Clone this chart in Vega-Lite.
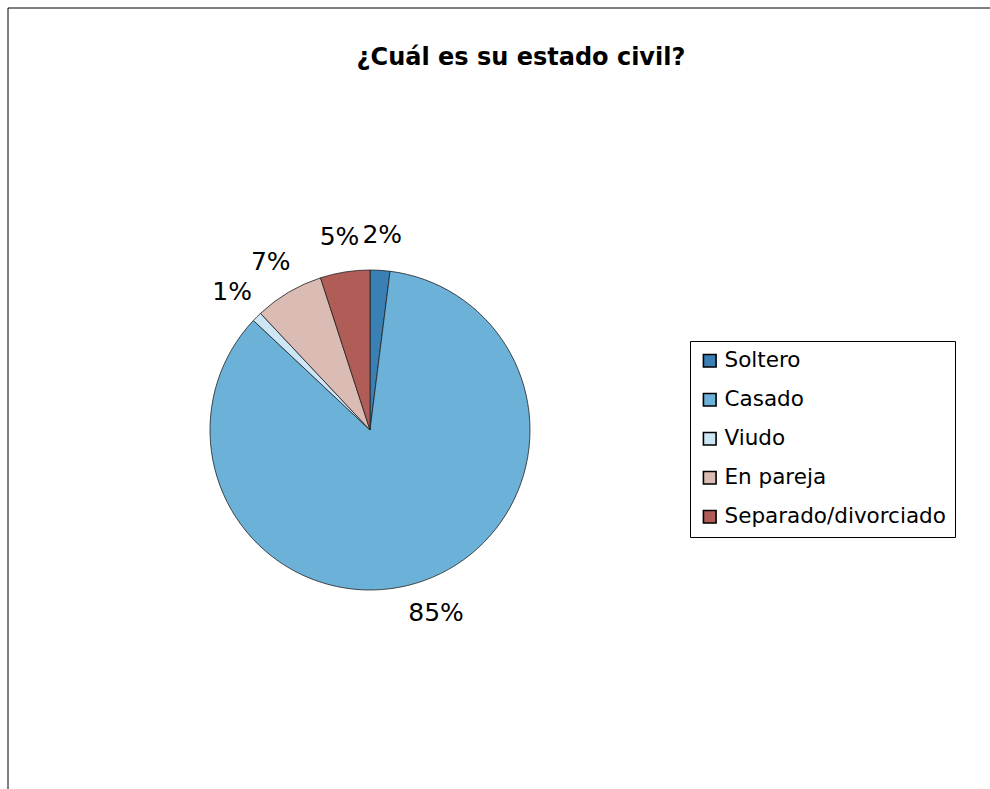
{
  "$schema": "https://vega.github.io/schema/vega-lite/v6.json",
  "autosize": "none",
  "width": 1000,
  "height": 800,
  "padding": {"left": 8, "top": 8, "right": 0, "bottom": 0},
  "background": "white",
  "title": {
    "text": "¿Cuál es su estado civil?",
    "font": "DejaVu Sans",
    "fontSize": 24,
    "fontWeight": "bold",
    "color": "black",
    "anchor": "middle",
    "offset": -62,
    "dx": 13
  },
  "config": {
    "view": {"stroke": null},
    "font": "DejaVu Sans"
  },
  "layer": [
    {
      "data": {"values": [{"k": 1}]},
      "mark": {"type": "rect", "fill": "white", "fillOpacity": 0, "stroke": "black", "strokeWidth": 1}
    },
    {
      "data": {
        "values": [
          {"estado": "Soltero", "pct": 2, "orden": 1, "label": "2%"},
          {"estado": "Casado", "pct": 85, "orden": 2, "label": "85%"},
          {"estado": "Viudo", "pct": 1, "orden": 3, "label": "1%"},
          {"estado": "En pareja", "pct": 7, "orden": 4, "label": "7%"},
          {"estado": "Separado/divorciado", "pct": 5, "orden": 5, "label": "5%"}
        ]
      },
      "encoding": {
        "theta": {"field": "pct", "type": "quantitative", "stack": true},
        "order": {"field": "orden", "type": "quantitative"}
      },
      "layer": [
        {
          "mark": {"type": "arc", "x": 362, "y": 422, "outerRadius": 160, "stroke": "#222", "strokeWidth": 0.8},
          "encoding": {
            "color": {
              "field": "estado",
              "type": "nominal",
              "sort": ["Soltero", "Casado", "Viudo", "En pareja", "Separado/divorciado"],
              "scale": {
                "domain": ["Soltero", "Casado", "Viudo", "En pareja", "Separado/divorciado"],
                "range": ["#3A80B5", "#6BB1D8", "#CDE6F6", "#DBBCB4", "#B05C57"]
              },
              "legend": {
                "title": null,
                "orient": "none",
                "legendX": 682,
                "legendY": 333,
                "strokeColor": "black",
                "fillColor": "white",
                "padding": 9,
                "symbolType": "square",
                "symbolSize": 160,
                "symbolStrokeColor": "black",
                "symbolStrokeWidth": 1.6,
                "symbolOpacity": 1,
                "labelFontSize": 21.5,
                "labelColor": "black",
                "labelFont": "DejaVu Sans",
                "labelOffset": 4,
                "rowPadding": 16,
                "labelLimit": 300
              }
            }
          }
        },
        {
          "mark": {"type": "text", "x": 362, "y": 422, "radius": 195, "fontSize": 25, "font": "DejaVu Sans", "color": "black"},
          "encoding": {
            "text": {"field": "label"}
          }
        }
      ]
    }
  ]
}
